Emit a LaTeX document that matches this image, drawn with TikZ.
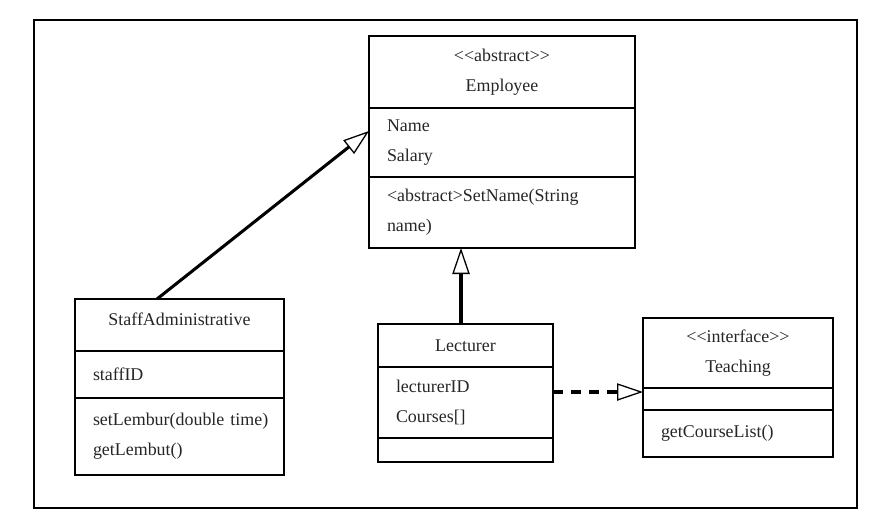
\documentclass[tikz,border=0pt]{standalone}
\usepackage{fontspec}
\setmainfont{Liberation Serif}
\usepackage{tikz}
\usetikzlibrary{shapes,arrows.meta,positioning,calc}

\begin{document}
\begin{tikzpicture}[
    classhead/.style={draw, line width=1.1pt, outer sep=0pt, inner sep=2pt, text=black!85, font=\fontsize{15.3}{25.5}\selectfont, align=center},
    classpart/.style={draw, line width=1.1pt, outer sep=0pt, inner xsep=0.54cm, inner ysep=2pt, text=black!85, font=\fontsize{15.3}{25.5}\selectfont, align=left},
    inherit/.style={line width=2.6pt, -{Triangle[open, length=0.78cm, width=0.52cm, line width=1.1pt]}},
    realize/.style={inherit, dash pattern=on 8.5pt off 7pt}
]
\useasboundingbox (0,0) rectangle (26.64,-15.75);
\node[draw, line width=1.5pt, minimum width=24.69cm, minimum height=14.64cm, xshift=13.365cm, yshift=-7.92cm] (frame) {};
%============
\node[classhead, minimum width=7.98cm, minimum height=2.16cm, xshift=15.06cm, yshift=-2.16cm] (E) {<\kern0pt<abstract>\kern0pt>\\Employee};
\node[classpart, text width=6.9cm, minimum height=2.07cm, below=0pt of E] (Ea) {Name\\Salary};
\node[classpart, text width=6.9cm, minimum height=2.13cm, below=0pt of Ea] (Eo) {<abstract>SetName(String\\name)};
%============
\node[classhead, minimum width=6.27cm, minimum height=1.56cm, xshift=5.385cm, yshift=-9.75cm] (S) {\raisebox{0.36cm}{StaffAdministrative}};
\node[classpart, text width=5.19cm, minimum height=1.41cm, below=0pt of S] (Sa) {staffID};
\node[classpart, text width=5.19cm, minimum height=2.31cm, below=0pt of Sa] (So) {\mbox{setLembur(double time)}\\getLembut()};
%============
\node[classhead, minimum width=5.25cm, minimum height=1.29cm, xshift=13.965cm, yshift=-10.365cm] (L) {Lecturer};
\node[classpart, text width=4.17cm, minimum height=2.13cm, below=0pt of L] (La) {lecturerID\\Courses[]};
\node[classpart, text width=4.17cm, minimum height=0.72cm, below=0pt of La] (Lo) {};
%============
\node[classhead, minimum width=5.7cm, minimum height=2.1cm, xshift=22.14cm, yshift=-10.59cm] (T) {<\kern0pt<interface>\kern0pt>\\Teaching};
\node[classpart, text width=4.62cm, minimum height=0.66cm, below=0pt of T] (Ta) {};
\node[classpart, text width=4.62cm, minimum height=1.41cm, below=0pt of Ta] (To) {getCourseList()};
%==========

\draw[inherit] ([xshift=-0.675cm]S.north) -- ([yshift=0.345cm]Ea.west);
\draw[inherit] ($(L.north)+(-0.135,0)$) -- ($(L.north |- Eo.south)+(-0.135,0)$);
\draw[realize] ([yshift=0.315cm]La.east) -- ($(La.east -| T.west)+(0,0.315)$);

\end{tikzpicture}
\end{document}
